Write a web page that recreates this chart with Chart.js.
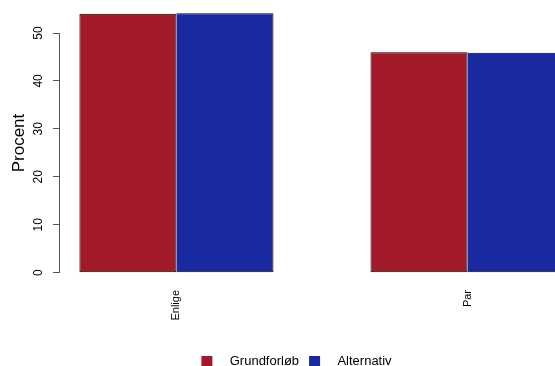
<!DOCTYPE html>
<html>
<head>
<meta charset="utf-8">
<script src="https://cdn.jsdelivr.net/npm/chart.js@4.4.1/dist/chart.umd.min.js"></script>
<style>
  html, body { margin: 0; padding: 0; background: #fff; overflow: hidden; }
  #wrap { position: relative; width: 600px; height: 378px; }
</style>
</head>
<body>
<div id="wrap"><canvas id="chart"></canvas></div>
<script>
const categories = ['Enlige', 'Par'];
const seriesNames = ['Grundforløb', 'Alternativ'];
const grundforlob = [54.0, 46.0];
const alternativ = [54.1, 45.9];
const yTicks = [0, 10, 20, 30, 40, 50];

const red = '#A21A29';
const blue = '#19299F';
const font = 'Liberation Sans, Arial, Helvetica, sans-serif';

// barplot(beside=TRUE) layout: one bar of space before each group, two bars per group
const nSeries = 2;
const groupCenter = i => i * (nSeries + 1) + 1 + nSeries / 2;
const xLo = 1, xHi = groupCenter(categories.length - 1) + nSeries / 2;
const xPad = 0.04 * (xHi - xLo);
const yTop = Math.max(...grundforlob, ...alternativ);
const yPad = 0.04 * yTop;

const toPoints = arr => arr.map((v, i) => ({ x: groupCenter(i), y: v }));

// R draws the y axis line only between the first and last tick
const rAxisLine = {
    id: 'rAxisLine',
    afterDraw(chart) {
        const y = chart.scales.y;
        const ctx = chart.ctx;
        const x = Math.round(chart.chartArea.left) - 0.5;
        ctx.save();
        ctx.strokeStyle = '#555';
        ctx.lineWidth = 1;
        ctx.beginPath();
        ctx.moveTo(x, y.getPixelForValue(yTicks[0]));
        ctx.lineTo(x, y.getPixelForValue(yTicks[yTicks.length - 1]));
        ctx.stroke();
        ctx.restore();
    }
};

new Chart(document.getElementById('chart'), {
    type: 'bar',
    data: {
        datasets: [{
            label: seriesNames[0],
            data: toPoints(grundforlob),
            backgroundColor: red,
            borderColor: '#000',
            borderWidth: 1,
            borderSkipped: false,
            inflateAmount: 0
        }, {
            label: seriesNames[1],
            data: toPoints(alternativ),
            backgroundColor: blue,
            borderColor: '#000',
            borderWidth: { top: 1, right: 1, bottom: 1, left: 0 },
            borderSkipped: false,
            inflateAmount: 0
        }]
    },
    options: {
        responsive: true,
        maintainAspectRatio: false,
        animation: false,
        categoryPercentage: nSeries / (nSeries + 1),
        barPercentage: 1,
        layout: { padding: { top: 3, right: 16, bottom: 0, left: 9 } },
        scales: {
            x: {
                type: 'linear',
                offset: false,
                min: xLo - xPad,
                max: xHi + xPad,
                afterBuildTicks: scale => {
                    scale.ticks = categories.map((c, i) => ({ value: groupCenter(i) }));
                },
                afterFit: scale => {
                    scale.height = 62;
                    scale.paddingLeft = 0;
                    scale.paddingRight = 0;
                },
                grid: { display: false, drawTicks: false },
                border: { display: false },
                ticks: {
                    autoSkip: false,
                    minRotation: 90,
                    maxRotation: 90,
                    padding: 7,
                    color: '#000',
                    font: { family: font, size: 11 },
                    callback: (v, i) => categories[i]
                }
            },
            y: {
                min: -yPad,
                max: yTop + yPad,
                afterBuildTicks: scale => {
                    scale.ticks = yTicks.map(v => ({ value: v }));
                },
                afterFit: scale => {
                    scale.width = 51;
                    scale.paddingTop = 0;
                    scale.paddingBottom = 0;
                },
                grid: {
                    drawOnChartArea: false,
                    drawTicks: true,
                    tickLength: 7,
                    color: '#555',
                    lineWidth: 1
                },
                border: { display: false },
                ticks: {
                    minRotation: 90,
                    maxRotation: 90,
                    crossAlign: 'center',
                    padding: 8,
                    color: '#000',
                    font: { family: font, size: 12 }
                },
                title: {
                    display: true,
                    text: 'Procent',
                    color: '#000',
                    padding: { top: 0, bottom: 0 },
                    font: { family: font, size: 17 }
                }
            }
        },
        plugins: {
            legend: {
                position: 'bottom',
                labels: {
                    boxWidth: 11,
                    boxHeight: 11,
                    padding: 10,
                    color: '#000',
                    font: { family: font, size: 13 },
                    generateLabels: chart => Chart.defaults.plugins.legend.labels.generateLabels(chart)
                        .map(l => ({ ...l, text: '   ' + l.text, lineWidth: 0, strokeStyle: l.fillStyle }))
                }
            },
            tooltip: { enabled: false }
        }
    },
    plugins: [rAxisLine]
});
</script>
</body>
</html>
